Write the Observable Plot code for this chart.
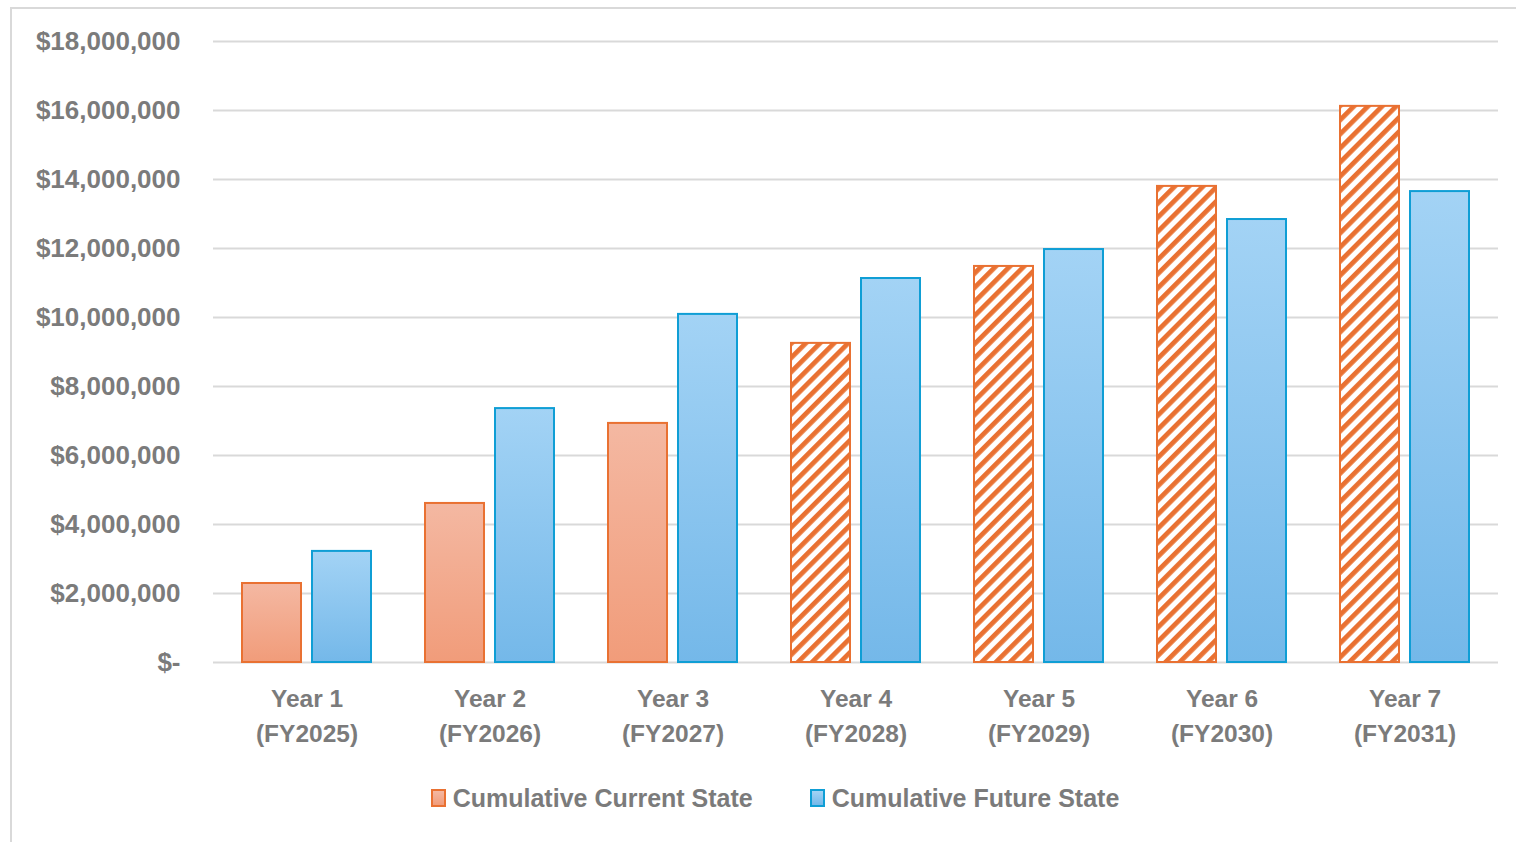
<!DOCTYPE html>
<html>
<head>
<meta charset="utf-8">
<script src="https://cdn.jsdelivr.net/npm/d3@7"></script>
<script src="https://cdn.jsdelivr.net/npm/@observablehq/plot@0.6"></script>
<style>
  html, body { margin: 0; padding: 0; background: #fff; }
  body { font-family: "Liberation Sans", Arial, sans-serif; width: 1516px; height: 842px; overflow: hidden; position: relative; }
  #frame { position: absolute; left: 10px; top: 7px; width: 1600px; height: 900px;
           border-left: 2px solid #d9d9d9; border-top: 2px solid #d9d9d9; box-sizing: border-box; }
  #chart { position: relative; }
  #legend { position: relative; width: 1516px; height: 46px; display: flex; justify-content: center;
            align-items: center; padding-left: 34px; box-sizing: border-box; gap: 57px;
            font-size: 25px; font-weight: bold; color: #7b7b7b; }
  .item { display: flex; align-items: center; gap: 7px; }
  .sw { width: 15px; height: 18px; box-sizing: border-box; border: 2px solid; }
</style>
</head>
<body>
<svg width="0" height="0" style="position:absolute">
  <defs>
    <linearGradient id="gOrange" x1="0" y1="0" x2="0" y2="1">
      <stop offset="0" stop-color="#F4B8A2"/>
      <stop offset="1" stop-color="#F19C7A"/>
    </linearGradient>
    <linearGradient id="gBlue" x1="0" y1="0" x2="0" y2="1">
      <stop offset="0" stop-color="#A3D3F5"/>
      <stop offset="1" stop-color="#74B8E9"/>
    </linearGradient>
    <pattern id="hatch" patternUnits="userSpaceOnUse" width="10" height="10" patternTransform="rotate(45)">
      <rect width="10" height="10" fill="#ffffff"/>
      <rect width="4.8" height="10" fill="#E97132"/>
    </pattern>
  </defs>
</svg>
<div id="frame"></div>
<div id="chart"></div>
<div id="legend">
  <div class="item"><div class="sw" style="background:linear-gradient(#F4B8A2,#F19C7A);border-color:#E97132"></div><span>Cumulative Current State</span></div>
  <div class="item"><div class="sw" style="background:linear-gradient(#A3D3F5,#74B8E9);border-color:#0F9ED5"></div><span>Cumulative Future State</span></div>
</div>
<script>
// ---- data ----
const years = ["Year 1", "Year 2", "Year 3", "Year 4", "Year 5", "Year 6", "Year 7"];
const fiscalYears = ["(FY2025)", "(FY2026)", "(FY2027)", "(FY2028)", "(FY2029)", "(FY2030)", "(FY2031)"];
const currentState = [2290000, 4610000, 6930000, 9250000, 11480000, 13800000, 16120000];
const futureState = [3220000, 7360000, 10090000, 11130000, 11970000, 12840000, 13650000];
const projected = [false, false, false, true, true, true, true];
const yTicks = [0, 2000000, 4000000, 6000000, 8000000, 10000000, 12000000, 14000000, 16000000, 18000000];

const currentRows = years.map((y, i) => ({year: y, value: currentState[i], projected: projected[i]}));
const futureRows = years.map((y, i) => ({year: y, value: futureState[i]}));

const fmt = d3.format(",");
const chart = Plot.plot({
  width: 1516,
  height: 775,
  marginTop: 41,
  marginBottom: 113,
  marginLeft: 213,
  marginRight: 18,
  style: {fontFamily: "'Liberation Sans', Arial, sans-serif", fontSize: "24px", fontWeight: "bold", color: "#7b7b7b", background: "transparent"},
  x: {domain: years, paddingInner: 0.297, paddingOuter: 0.1485, label: null, axis: null},
  y: {domain: [0, 18000000], label: null, axis: null},
  marks: [
    Plot.gridY(yTicks, {stroke: "#d9d9d9", strokeOpacity: 1, strokeWidth: 2}),
    Plot.barY(currentRows.filter(d => !d.projected), {x: "year", y: "value", fill: "url(#gOrange)", stroke: "#E97132", strokeWidth: 2, insetRight: 70}),
    Plot.barY(currentRows.filter(d => d.projected), {x: "year", y: "value", fill: "url(#hatch)", stroke: "#E97132", strokeWidth: 2, insetRight: 70}),
    Plot.barY(futureRows, {x: "year", y: "value", fill: "url(#gBlue)", stroke: "#0F9ED5", strokeWidth: 2, insetLeft: 70}),
    Plot.axisY({ticks: yTicks, tickSize: 0, tickPadding: 33, label: null, fontSize: 26,
      tickFormat: d => d === 0 ? "$-" : "$" + fmt(d)}),
    Plot.axisX({tickSize: 0, tickPadding: 20, label: null, lineHeight: 1.42, fontSize: 24.5,
      tickFormat: d => d + "\n" + fiscalYears[years.indexOf(d)]})
  ]
});
document.getElementById("chart").appendChild(chart);
</script>
</body>
</html>
